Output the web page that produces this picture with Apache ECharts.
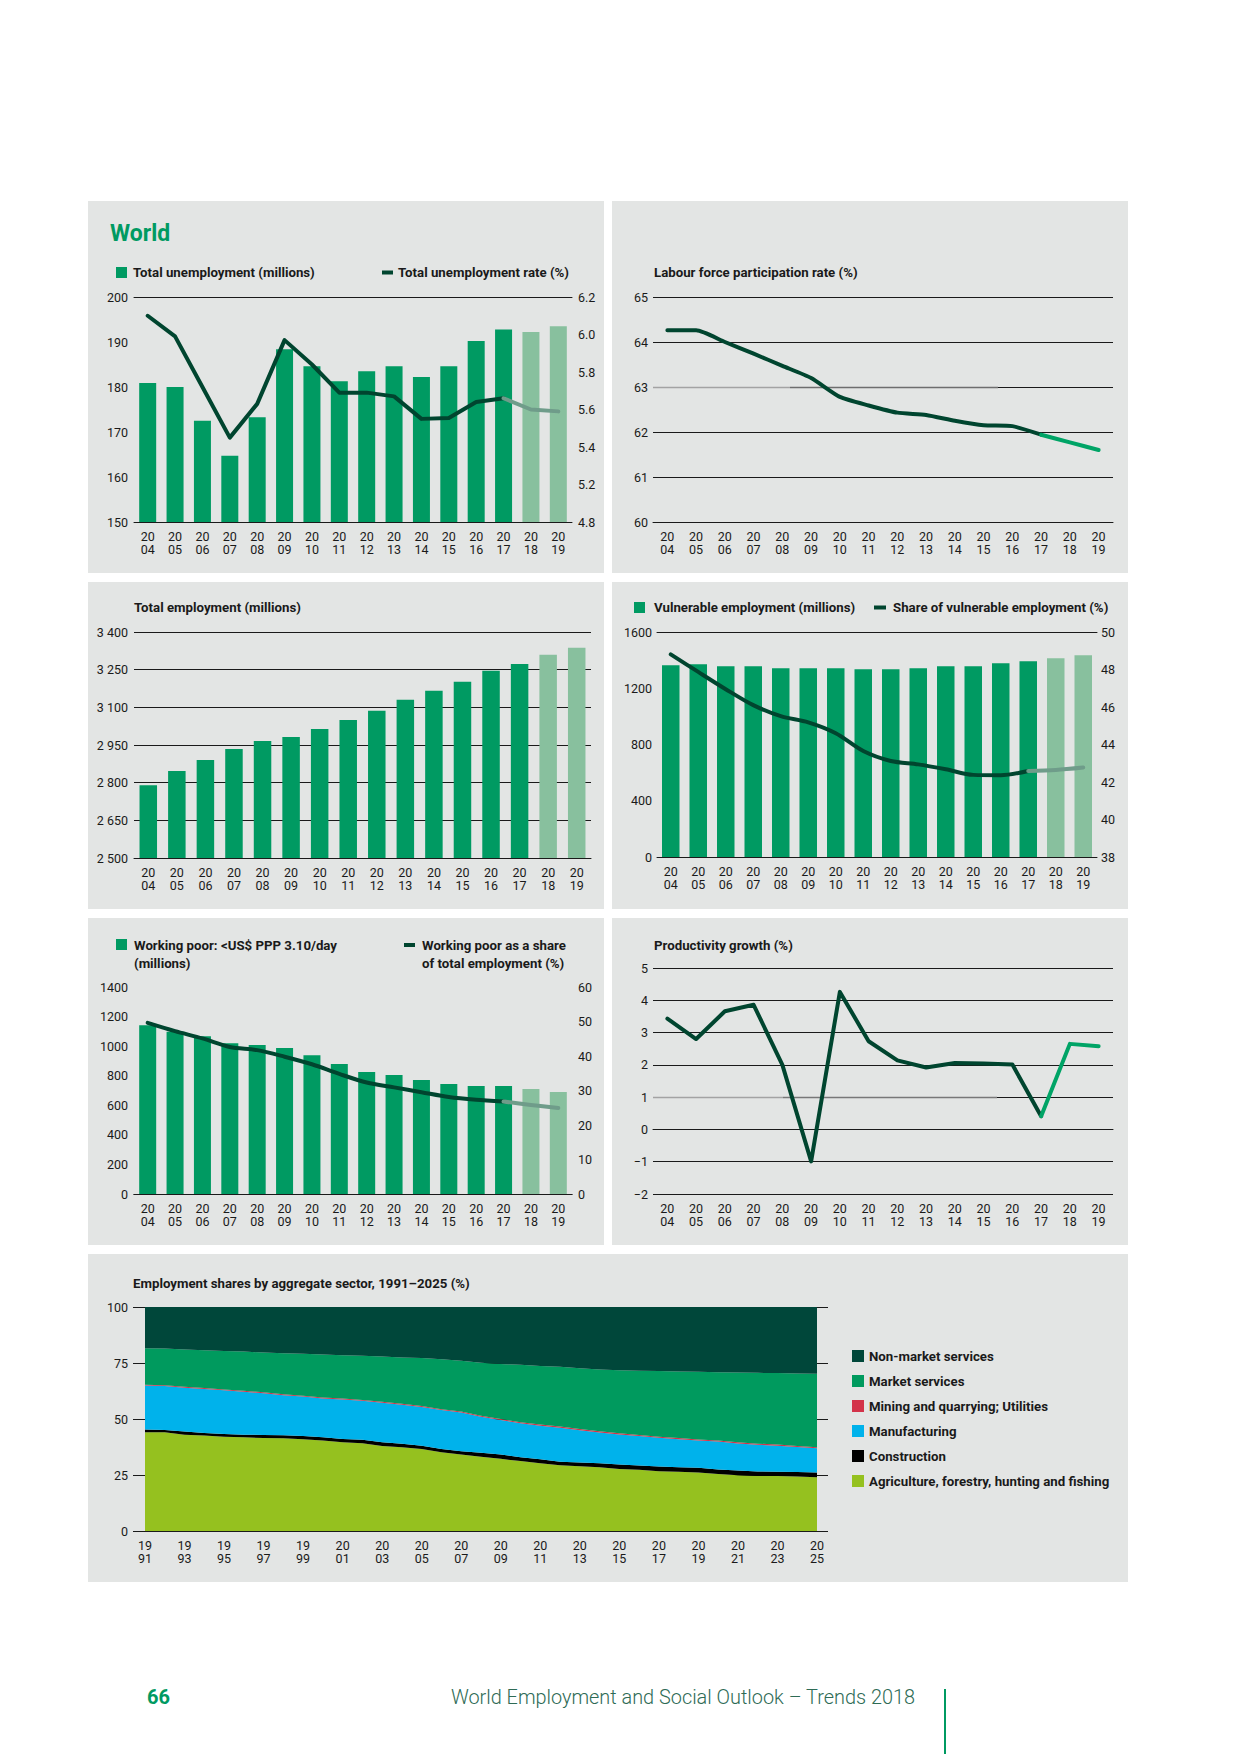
<!DOCTYPE html>
<html><head><meta charset="utf-8">
<script src="https://cdn.jsdelivr.net/npm/echarts@6/dist/echarts.min.js"></script>
<style>html,body{margin:0;padding:0;background:#fff}#c{width:1240px;height:1754px}</style>
</head><body><div id="c"></div>
<script>
// ---------- data ----------
const YEARS = ['2004','2005','2006','2007','2008','2009','2010','2011','2012','2013','2014','2015','2016','2017','2018','2019'];
const FIRST_PROJECTION_YEAR = '2018';
const UNEMP_MILLIONS = [180.9,180.0,172.5,164.7,173.3,188.4,184.6,181.3,183.5,184.6,182.2,184.6,190.2,192.8,192.2,193.5];
const UNEMP_RATE = [6.10,5.99,5.72,5.45,5.63,5.97,5.84,5.69,5.69,5.67,5.55,5.555,5.64,5.66,5.60,5.59];
const UNEMP_RATE_TICKS = ['4.8','5.2','5.4','5.6','5.8','6.0','6.2'];
const LFPR = [64.26,64.26,64.0,63.74,63.47,63.2,62.78,62.59,62.43,62.38,62.25,62.15,62.13,61.94,61.77,61.6];
const EMPLOYMENT = [2790,2846,2890,2934,2966,2982,3014,3050,3086,3130,3166,3202,3246,3273,3309,3337];
const VULN_MILLIONS = [1364,1371,1357,1357,1342,1342,1342,1335,1335,1342,1357,1357,1378,1392,1413,1434];
const VULN_SHARE = [48.81,47.87,46.95,46.1,45.51,45.18,44.6,43.65,43.12,42.94,42.68,42.38,42.36,42.59,42.64,42.77];
const POOR_MILLIONS = [1141,1097,1067,1020,1007,987,939,879,825,804,771,744,730,730,710,690];
const POOR_SHARE = [49.6,47.2,45.1,42.6,41.7,39.8,37.6,34.8,32.3,30.9,29.5,28.1,27.3,26.8,25.8,24.9];
const PRODUCTIVITY = [3.43,2.80,3.66,3.86,2.0,-0.99,4.26,2.73,2.14,1.92,2.06,2.04,2.01,0.41,2.65,2.58];

const SECTOR_YEARS = ['1991','1992','1993','1994','1995','1996','1997','1998','1999','2000','2001','2002','2003','2004','2005','2006','2007','2008','2009','2010','2011','2012','2013','2014','2015','2016','2017','2018','2019','2020','2021','2022','2023','2024','2025'];
const AGRICULTURE = [44.1,44.1,43.0,42.6,42.1,41.8,41.5,41.4,41.0,40.4,39.6,39.2,38.0,37.4,36.6,35.2,34.1,33.2,32.2,31.2,30.3,29.4,28.9,28.5,27.7,27.3,26.7,26.4,26.1,25.5,24.9,24.5,24.5,24.3,24.0];
const CONSTRUCTION = [1.2,1.0,1.4,1.2,1.2,1.2,1.4,1.3,1.4,1.4,1.5,1.5,1.6,1.5,1.5,1.4,1.5,1.7,1.9,1.7,1.7,1.5,1.7,1.8,2.0,1.9,2.1,2.1,2.1,1.9,2.1,2.1,1.9,2.0,2.1];
const MANUFACTURING = [19.6,19.6,19.6,19.6,19.5,19.2,18.6,17.9,17.6,17.4,17.6,17.4,17.7,17.5,17.3,17.4,17.3,16.1,15.5,15.2,15.0,15.2,14.4,13.7,13.4,13.2,12.8,12.5,12.2,12.5,12.1,11.9,11.7,11.2,10.8];
const MINING_UTILITIES = [0.4,0.4,0.4,0.4,0.4,0.4,0.4,0.4,0.4,0.4,0.4,0.4,0.4,0.4,0.4,0.4,0.4,0.4,0.4,0.4,0.5,0.5,0.5,0.5,0.5,0.5,0.5,0.5,0.5,0.5,0.5,0.5,0.5,0.5,0.5];
const MARKET_SERVICES = [16.3,16.4,16.6,16.9,17.2,17.5,17.8,18.4,18.7,19.2,19.4,19.7,20.2,20.6,21.4,22.3,22.7,23.7,24.5,25.7,26.2,26.7,27.2,27.6,28.2,28.6,29.3,29.7,30.2,30.5,31.2,31.6,31.9,32.3,32.8];
const NON_MARKET_SERVICES = [18.4,18.5,19.0,19.3,19.6,19.9,20.3,20.6,20.9,21.2,21.5,21.8,22.1,22.6,22.8,23.3,24.0,24.9,25.5,25.8,26.3,26.7,27.3,27.9,28.2,28.5,28.6,28.8,28.9,29.1,29.2,29.4,29.5,29.7,29.8];

// ---------- styles ----------
const FONT = "Roboto, 'Liberation Sans', sans-serif";
const INK = '#1a1a1a';
const PANEL = '#e3e5e4';
const GREEN = '#009a62';
const LIGHT = '#88c09e';
const DARK = '#00452f';
const PROJ_GRAY = '#6f9c8a';
const PROJ_BRIGHT = '#00a466';
const C_AGRI = '#95c11f', C_CONS = '#000000', C_MANU = '#00b2eb', C_MINE = '#d3334a', C_MARKET = '#009a5e', C_NONMARKET = '#00473a';

// size text so that its width matches the condensed face of the original
const mctx = document.createElement('canvas').getContext('2d');
function measure(str, weight, size) { mctx.font = weight + ' ' + size + 'px ' + FONT; return mctx.measureText(str).width; }
const BOLD = Math.min(14, 14 * 182 / measure('Total unemployment (millions)', 'bold', 14));
const FOOTER_TEXT = 'World Employment and Social Outlook \u2013 Trends 2018';
const FOOTER_SIZE = Math.min(21, 20 * 465 / measure(FOOTER_TEXT, 300, 20));
const TICK = 12.5;
const TICK_W = 'normal';

const projStart = YEARS.indexOf(FIRST_PROJECTION_YEAR);
const lastActual = projStart - 1;

const yearFmt = v => v.slice(0, 2) + '\n' + v.slice(2);
const spaceThousands = v => String(v).replace(/\B(?=(\d{3})+(?!\d))/g, ' ');
const plain = v => String(v);

const grids = [
  {left: 134, top: 297, width: 438, height: 225},
  {left: 653, top: 297, width: 460, height: 225},
  {left: 134, top: 632, width: 457, height: 226},
  {left: 657, top: 632, width: 440, height: 225},
  {left: 134, top: 987, width: 438, height: 207},
  {left: 653, top: 968, width: 460, height: 226},
  {left: 145, top: 1307, width: 672, height: 224}
];

const xAxes = [], yAxes = [];
function addX(o) { xAxes.push(o); return xAxes.length - 1; }
function addY(o) { yAxes.push(o); return yAxes.length - 1; }
function lab(extra) { return Object.assign({fontFamily: FONT, fontSize: TICK, fontWeight: TICK_W, color: INK, margin: 6, formatter: plain}, extra || {}); }

function catAxis(gi, data, extra) {
  return Object.assign({
    type: 'category', gridIndex: gi, data: data, boundaryGap: true, z: 3,
    axisLine: {show: true, lineStyle: {color: INK, width: 1}},
    axisTick: {show: false},
    splitLine: {show: false},
    axisLabel: lab({lineHeight: 13, margin: 8, interval: 0, formatter: yearFmt})
  }, extra || {});
}
function topAxis(gi, data) {
  return {type: 'category', gridIndex: gi, data: data, position: 'top', z: 3,
    axisLine: {show: true, lineStyle: {color: INK, width: 1}},
    axisTick: {show: false}, axisLabel: {show: false}, splitLine: {show: false}};
}
function valAxis(gi, min, max, interval, extra) {
  return Object.assign({
    type: 'value', gridIndex: gi, min: min, max: max, interval: interval,
    axisLine: {show: false}, axisTick: {show: false},
    splitLine: {show: false},
    axisLabel: lab()
  }, extra || {});
}
const GRIDLINE = {show: true, lineStyle: {color: INK, width: 1}};

// Panel 1
const x0 = addX(catAxis(0, YEARS)); addX(topAxis(0, YEARS));
const y0L = addY(valAxis(0, 150, 200, 10));
const y0R = addY(valAxis(0, 5.0, 6.2, 0.2, {position: 'right', axisLabel: lab({formatter: (v, i) => UNEMP_RATE_TICKS[i]})}));
// Panel 2
const x1 = addX(catAxis(1, YEARS));
const y1 = addY(valAxis(1, 60, 65, 1, {splitLine: GRIDLINE, axisLabel: lab({margin: 5})}));
// Panel 3
const x2 = addX(catAxis(2, YEARS));
const y2 = addY(valAxis(2, 2500, 3400, 150, {splitLine: GRIDLINE, axisLabel: lab({formatter: spaceThousands})}));
// Panel 4
const x3 = addX(catAxis(3, YEARS)); addX(topAxis(3, YEARS));
const y3L = addY(valAxis(3, 0, 1600, 400, {axisLabel: lab({margin: 5})}));
const y3R = addY(valAxis(3, 38, 50, 2, {position: 'right', axisLabel: lab({margin: 4})}));
// Panel 5
const x4 = addX(catAxis(4, YEARS)); addX(topAxis(4, YEARS));
const y4L = addY(valAxis(4, 0, 1400, 200));
const y4R = addY(valAxis(4, 0, 60, 10, {position: 'right'}));
// Panel 6
const x5 = addX(catAxis(5, YEARS));
const y5 = addY(valAxis(5, -2, 5, 1, {splitLine: GRIDLINE,
  axisLabel: lab({margin: 5, formatter: v => v < 0 ? '\u2212' + Math.abs(v) : String(v)})}));
// Panel 7
const x6 = addX(catAxis(6, SECTOR_YEARS, {boundaryGap: false, axisLabel: lab({lineHeight: 13, margin: 8, interval: 1, formatter: yearFmt})}));
addX(topAxis(6, SECTOR_YEARS));
const y6L = addY(valAxis(6, 0, 100, 25, {splitLine: GRIDLINE,
  axisTick: {show: true, length: 12, lineStyle: {color: INK, width: 1}}, axisLabel: lab({margin: 17})}));
const y6R = addY(valAxis(6, 0, 100, 25, {position: 'right',
  axisTick: {show: true, length: 11, lineStyle: {color: INK, width: 1}}, axisLabel: {show: false}}));

function bars(xi, yi, values, width) {
  return {type: 'bar', xAxisIndex: xi, yAxisIndex: yi, barWidth: width, z: 2,
    data: values.map((v, i) => ({value: v, itemStyle: {color: i >= projStart ? LIGHT : GREEN}}))};
}
function lineParts(xi, yi, values, actualColor, projColor, smooth) {
  const base = {type: 'line', xAxisIndex: xi, yAxisIndex: yi, symbol: 'none', smooth: smooth, z: 4, connectNulls: false};
  return [
    Object.assign({}, base, {lineStyle: {color: actualColor, width: 4, cap: 'round', join: 'round'},
      data: values.map((v, i) => i <= lastActual ? v : null)}),
    Object.assign({}, base, {lineStyle: {color: projColor, width: 4, cap: 'round', join: 'round'},
      data: values.map((v, i) => i >= lastActual ? v : null)})
  ];
}
function area(name, values, color) {
  return {type: 'line', name: name, xAxisIndex: x6, yAxisIndex: y6L, stack: 'sector', symbol: 'none',
    lineStyle: {width: 0}, areaStyle: {color: color, opacity: 1}, itemStyle: {color: color}, data: values, z: 2};
}

const series = [
  bars(x0, y0L, UNEMP_MILLIONS, 17),
  ...lineParts(x0, y0R, UNEMP_RATE, DARK, PROJ_GRAY, false),
  ...lineParts(x1, y1, LFPR, DARK, PROJ_BRIGHT, 0.2),
  bars(x2, y2, EMPLOYMENT, 17.5),
  bars(x3, y3L, VULN_MILLIONS, 17.5),
  ...lineParts(x3, y3R, VULN_SHARE, DARK, PROJ_GRAY, 0.3),
  bars(x4, y4L, POOR_MILLIONS, 17),
  ...lineParts(x4, y4R, POOR_SHARE, DARK, PROJ_GRAY, 0.3),
  ...lineParts(x5, y5, PRODUCTIVITY, DARK, PROJ_BRIGHT, false),
  area('Agriculture, forestry, hunting and fishing', AGRICULTURE, C_AGRI),
  area('Construction', CONSTRUCTION, C_CONS),
  area('Manufacturing', MANUFACTURING, C_MANU),
  area('Mining and quarrying; Utilities', MINING_UTILITIES, C_MINE),
  area('Market services', MARKET_SERVICES, C_MARKET),
  area('Non-market services', NON_MARKET_SERVICES, C_NONMARKET)
];

// ---------- graphic (panels, titles, legends, footer) ----------
let gid = 0;
function rect(x, y, w, h, fill, z) { return {type: 'rect', id: 'g' + (gid++), silent: true, z: z == null ? -10 : z, shape: {x, y, width: w, height: h}, style: {fill}}; }
function text(x, y, str, o) {
  o = o || {};
  return {type: 'text', id: 'g' + (gid++), silent: true, z: 5, style: {
    text: str, x, y, fill: o.fill || INK, fontFamily: FONT, fontSize: o.size || BOLD, fontWeight: o.weight || 'bold',
    align: o.align || 'left', verticalAlign: 'middle', textAlign: o.align || 'left', textVerticalAlign: 'middle'}};
}
const graphics = [
  rect(88, 201, 516, 372, PANEL), rect(612, 201, 516, 372, PANEL),
  rect(88, 582, 516, 327, PANEL), rect(612, 582, 516, 327, PANEL),
  rect(88, 918, 516, 327, PANEL), rect(612, 918, 516, 327, PANEL),
  rect(88, 1254, 1040, 328, PANEL),
  text(110, 233, 'World', {fill: GREEN, size: 23}),
  rect(116, 267, 11, 11, GREEN, 5), text(133, 272, 'Total unemployment (millions)'),
  rect(382, 270.5, 11, 4, DARK, 5), text(398, 272, 'Total unemployment rate (%)'),
  text(654, 272, 'Labour force participation rate (%)'),
  text(134, 607, 'Total employment (millions)'),
  rect(634, 602, 11, 11, GREEN, 5), text(654, 607, 'Vulnerable employment (millions)'),
  rect(874, 605.5, 12, 4, DARK, 5), text(893, 607, 'Share of vulnerable employment (%)'),
  rect(116, 939, 11, 11, GREEN, 5), text(134, 945, 'Working poor: <US$ PPP 3.10/day'), text(134, 963, '(millions)'),
  rect(404, 943, 11, 4, DARK, 5), text(422, 945, 'Working poor as a share'), text(422, 963, 'of total employment (%)'),
  text(654, 945, 'Productivity growth (%)'),
  text(133, 1283, 'Employment shares by aggregate sector, 1991\u20132025 (%)')
];
const LEGEND7 = [['Non-market services', C_NONMARKET], ['Market services', C_MARKET], ['Mining and quarrying; Utilities', C_MINE],
  ['Manufacturing', C_MANU], ['Construction', C_CONS], ['Agriculture, forestry, hunting and fishing', C_AGRI]];
LEGEND7.forEach((it, i) => {
  graphics.push(rect(852, 1350 + i * 25, 12, 12, it[1], 5));
  graphics.push(text(869, 1356 + i * 25, it[0]));
});
graphics.push(text(147, 1697, '66', {fill: GREEN, size: 20}));
graphics.push(text(915, 1697, FOOTER_TEXT, {fill: '#2e6b55', size: FOOTER_SIZE, weight: 300, align: 'right'}));
graphics.push({type: 'line', id: 'g' + (gid++), silent: true, z: 5, shape: {x1: 945, y1: 1689, x2: 945, y2: 1754}, style: {stroke: GREEN, lineWidth: 2}});

const chart = echarts.init(document.getElementById('c'), null, {renderer: 'svg', width: 1240, height: 1754});
chart.setOption({
  animation: false,
  backgroundColor: '#ffffff',
  grid: grids,
  xAxis: xAxes,
  yAxis: yAxes,
  series: series,
  graphic: {elements: graphics}
});

// lighter segments of two gridlines, as printed in the original
function crisp(p) { const d = Math.round(p * 2); return (d % 2 === 1) ? d / 2 : (d + 1) / 2; }
const extra = [];
function seg(yi, v, xa, xb, color) {
  const y = crisp(chart.convertToPixel({yAxisIndex: yi}, v));
  extra.push({type: 'line', id: 'g' + (gid++), silent: true, z: 1, shape: {x1: xa, y1: y, x2: xb, y2: y}, style: {stroke: color, lineWidth: 1.4}});
}
const g1 = grids[1], g5 = grids[5];
seg(y1, 63, g1.left, 790, '#a3a3a3'); seg(y1, 63, 790, 998, '#6e6e6e');
seg(y5, 1, g5.left, 783, '#a3a3a3'); seg(y5, 1, 783, 997, '#787878');
chart.setOption({graphic: {elements: extra}});
</script></body></html>
